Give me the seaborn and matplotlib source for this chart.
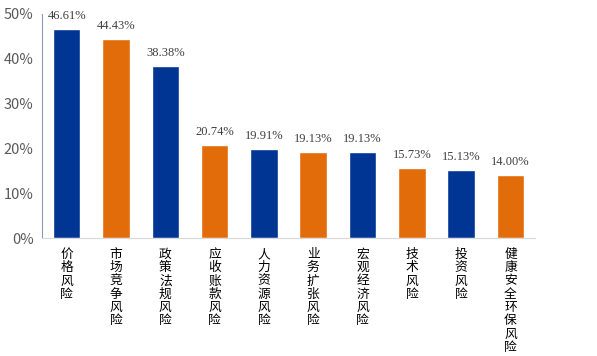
import matplotlib
matplotlib.use("Agg")
import matplotlib.pyplot as plt
import seaborn as sns
import pandas as pd

categories = ["价格风险", "市场竞争风险", "政策法规风险", "应收账款风险", "人力资源风险",
              "业务扩张风险", "宏观经济风险", "技术风险", "投资风险", "健康安全环保风险"]
values = [46.61, 44.43, 38.38, 20.74, 19.91, 19.13, 19.13, 15.73, 15.13, 14.00]
bar_colors = ["#003594", "#E36C0A", "#003594", "#E36C0A", "#003594",
              "#E36C0A", "#003594", "#E36C0A", "#003594", "#E36C0A"]
yticks = [0, 10, 20, 30, 40, 50]

sns.set_style("white")
plt.rcParams['font.family'] = ['Noto Sans CJK SC', 'DejaVu Sans']

fig = plt.figure(figsize=(5.97, 3.56), dpi=100)
ax = fig.add_axes([0.0704, 0.331, 0.826, 0.630])

df = pd.DataFrame({"cat": categories, "val": values})
sns.barplot(data=df, x="cat", y="val", hue="cat", palette=bar_colors,
            width=0.56, legend=False, ax=ax, saturation=1)

ax.set_ylim(0, 50)
ax.set_xlim(-0.5, len(categories) - 0.5)
ax.set_yticks(yticks)
ax.set_yticklabels([f"{t}%" for t in yticks], color="#595959", fontsize=10.5)
ax.set_xticks(range(len(categories)))
ax.set_xticklabels(["\n".join(c) for c in categories], fontsize=9.2,
                   color="#000000", va="top", linespacing=1.03)
ax.tick_params(axis="both", length=0)
ax.tick_params(axis="x", pad=7)
ax.tick_params(axis="y", pad=6)
ax.set_xlabel("")
ax.set_ylabel("")

for s in ["top", "right"]:
    ax.spines[s].set_visible(False)
ax.spines["left"].set_color("#8E9AAF")
ax.spines["left"].set_linewidth(0.8)
ax.spines["bottom"].set_color("#D9D9D9")
ax.spines["bottom"].set_linewidth(0.8)

for i, v in enumerate(values):
    ax.annotate(f"{v:.2f}%", (i, v), xytext=(0, 5), textcoords="offset points",
                ha="center", va="bottom", fontsize=9, color="#404040",
                family="Liberation Serif", annotation_clip=False)

fig.savefig("out.png", dpi=100)
